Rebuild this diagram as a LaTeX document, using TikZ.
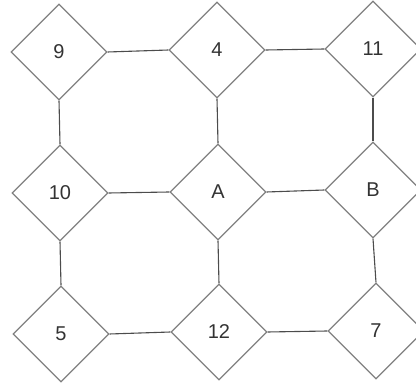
\documentclass[tikz,border=0pt]{standalone}
\usepackage{fontspec}
\setmainfont{Liberation Sans}
\usetikzlibrary{shapes.geometric}
\begin{document}
\begin{tikzpicture}[x=1pt,y=1pt,
  dnode/.style={shape=diamond, draw=black!50, line width=1.1pt, minimum width=96pt, minimum height=96pt, inner sep=0pt, font=\fontsize{20}{24}\selectfont, text=black!80},
  link/.style={draw=black!70, line width=1.1pt}]
\useasboundingbox (0,0) rectangle (416,-387);
\clip (0,0) rectangle (416,-387);
\node[dnode] (n9)  at (59,-52)  {9};
\node[dnode] (n4)  at (217,-50) {4};
\node[dnode] (n11) at (373,-49) {11};
\node[dnode] (n10) at (60,-193) {10};
\node[dnode] (nA)  at (218,-192) {A};
\node[dnode] (nB)  at (373,-190) {B};
\node[dnode] (n5)  at (61,-334) {5};
\node[dnode] (n12) at (219,-332) {12};
\node[dnode] (n7)  at (376,-331) {7};
\path[link] (n9.east) -- (n4.west);
\path[link] (n4.east) -- (n11.west);
\path[link] (n10.east) -- (nA.west);
\path[link] (nA.east) -- (nB.west);
\path[link] (n5.east) -- (n12.west);
\path[link] (n12.east) -- (n7.west);
\path[link] (n9.south) -- (n10.north);
\path[link] (n10.south) -- (n5.north);
\path[link] (n4.south) -- (nA.north);
\path[link] (nA.south) -- (n12.north);
\path[link] (n11.south) -- (nB.north);
\path[link] (nB.south) -- (n7.north);
\end{tikzpicture}
\end{document}
